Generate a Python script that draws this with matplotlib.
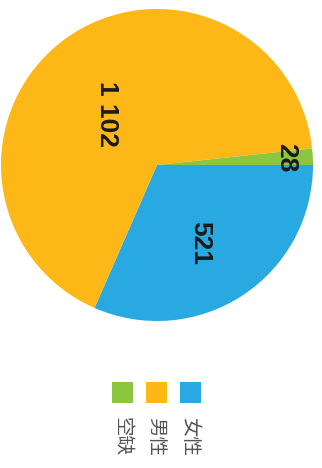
import matplotlib.pyplot as plt
from matplotlib.patches import Rectangle

# data
categories = ['女性', '男性', '空缺']
values = [521, 1102, 28]
value_labels = ['521', '1 102', '28']
colors = ['#29A9E1', '#FDB817', '#8CC63F']

plt.rcParams['font.family'] = ['Noto Sans CJK SC', 'DejaVu Sans']

fig = plt.figure(figsize=(3.22, 4.68), dpi=100)
W, H = 322, 468

# pie axes (center ~ (157,165) px, radius ~156 px)
cx, cy, r = 157, 165, 156
ax = fig.add_axes([(cx - r) / W, 1 - (cy + r) / H, 2 * r / W, 2 * r / H])
wedges, _ = ax.pie(values, colors=colors, startangle=0, counterclock=False,
                   wedgeprops=dict(linewidth=0))
ax.set_xlim(-1, 1)
ax.set_ylim(-1, 1)
ax.set_aspect('equal')
ax.axis('off')

# value labels, rotated like the source image
label_pos = [(0.28, -0.50), (-0.32, 0.33), (0.83, 0.05)]
for (x, y), txt in zip(label_pos, value_labels):
    ax.text(x, y, txt, rotation=-90, ha='center', va='center',
            fontsize=19, fontweight='bold', color='#1a1a1a',
            family=['Liberation Sans', 'DejaVu Sans'])

# legend drawn by hand (rotated layout)
sq = 21
leg_x = [190, 156, 122]
for xc, cat, col in zip(leg_x, categories, colors):
    fig.patches.append(Rectangle(((xc - sq / 2) / W, 1 - (392 + sq / 2) / H),
                                 sq / W, sq / H, transform=fig.transFigure,
                                 facecolor=col, edgecolor='none'))
    fig.text(xc / W, 1 - 417 / H, cat, rotation=-90, ha='center', va='top',
             fontsize=14, color='#555555')

fig.savefig('out.png', dpi=100)
